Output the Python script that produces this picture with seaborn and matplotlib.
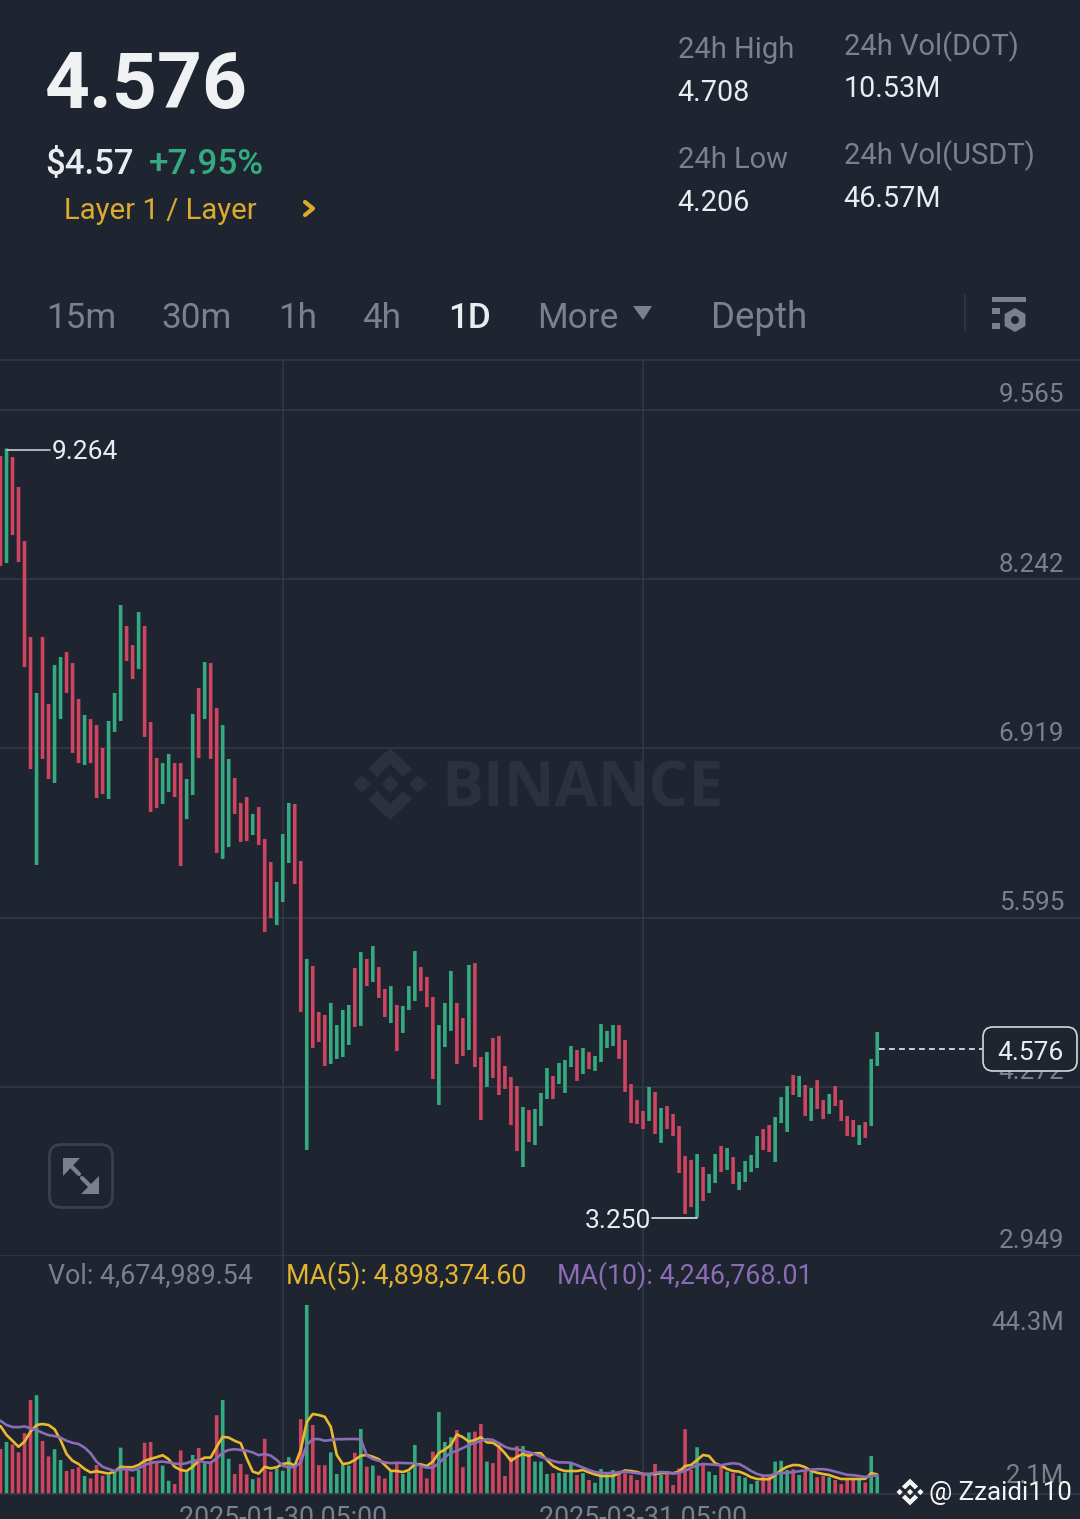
import pandas as pd
import numpy as np
import matplotlib.pyplot as plt
import seaborn as sns
from matplotlib.patches import FancyBboxPatch, Polygon, Rectangle, RegularPolygon, Circle
from matplotlib.lines import Line2D

# --- data ---
candle_high = [9.205, 9.264, 9.197, 8.963, 8.540, 7.790, 7.352, 7.790, 7.266, 7.571,
               7.633, 7.672, 7.586, 7.305, 7.180, 7.148, 7.101, 6.922, 7.133, 7.352,
               8.040, 7.876, 7.727, 7.985, 7.876, 7.125, 6.843, 6.804, 6.875, 6.804,
               6.804, 6.679, 7.188, 7.391, 7.594, 7.586, 7.234, 7.101, 6.836, 6.687,
               6.492, 6.538, 6.406, 6.460, 6.210, 6.030, 5.874, 6.249, 6.492, 6.484,
               6.038, 5.272, 5.217, 4.857, 4.834, 4.928, 4.755, 4.873, 4.912, 5.201,
               5.326, 5.272, 5.373, 5.209, 5.037, 5.060, 4.912, 4.904, 5.060, 5.334,
               5.209, 5.131, 4.974, 4.755, 4.928, 5.178, 4.928, 4.810, 5.225, 5.240,
               4.505, 4.544, 4.654, 4.669, 4.435, 4.349, 4.278, 4.114, 4.091, 4.099,
               4.224, 4.419, 4.357, 4.458, 4.482, 4.591, 4.560, 4.576, 4.544, 4.513,
               4.763, 4.709, 4.755, 4.755, 4.638, 4.294, 4.169, 4.083, 4.271, 4.232,
               4.106, 4.122, 4.060, 3.966, 3.731, 3.700, 3.747, 3.645, 3.590, 3.747,
               3.809, 3.794, 3.723, 3.606, 3.692, 3.739, 3.887, 3.942, 3.973, 4.036,
               4.192, 4.278, 4.364, 4.357, 4.286, 4.263, 4.325, 4.169, 4.216, 4.278,
               4.169, 4.044, 4.013, 3.973, 3.997, 4.490, 4.701]
candle_low = [8.345, 8.368, 8.587, 8.376, 7.555, 6.757, 6.007, 6.836, 6.679, 6.648,
              7.148, 7.352, 6.883, 6.804, 6.789, 6.804, 6.531, 6.562, 6.523, 7.047,
              7.133, 7.602, 7.461, 7.539, 7.008, 6.421, 6.452, 6.484, 6.578, 6.538,
              5.999, 6.366, 6.554, 6.843, 7.148, 6.836, 6.101, 6.054, 6.147, 6.406,
              6.187, 6.194, 6.241, 6.163, 5.483, 5.592, 5.537, 5.717, 6.022, 5.858,
              4.857, 3.778, 4.576, 4.623, 4.435, 4.451, 4.490, 4.505, 4.599, 4.740,
              4.748, 5.060, 5.092, 4.967, 4.818, 4.771, 4.552, 4.693, 4.873, 4.943,
              5.021, 4.896, 4.333, 4.130, 4.583, 4.709, 4.451, 4.513, 4.560, 4.427,
              4.013, 4.271, 4.341, 4.208, 4.255, 3.973, 3.770, 3.645, 3.841, 3.817,
              3.966, 4.177, 4.177, 4.294, 4.224, 4.427, 4.318, 4.372, 4.411, 4.396,
              4.466, 4.576, 4.591, 4.490, 4.232, 3.989, 3.981, 3.942, 4.005, 3.903,
              3.833, 3.942, 3.887, 3.598, 3.278, 3.332, 3.250, 3.379, 3.442, 3.520,
              3.606, 3.622, 3.512, 3.465, 3.528, 3.606, 3.637, 3.778, 3.762, 3.684,
              3.989, 3.919, 4.208, 4.192, 4.044, 4.005, 4.099, 4.020, 4.060, 4.122,
              4.005, 3.887, 3.880, 3.817, 3.872, 3.966, 4.435]
candle_dir = list('DUDDDDUDDU' 'UDDDUDDDUU' 'UDDUDDDUUD' 'DUUDUDDUUD' 'DDUDDDUUUD'
                  'DUDDDUUUUD' 'UDUDDUDUUU' 'DDDUUUDDUD' 'DUDDDDDUDU' 'UUDUUUDUDU'
                  'UUUDDDDDUD' 'UDDDDDUDUU' 'DUDUUUUDDU' 'UUDUDUDDUD' 'DDDUDUU')
volume = [11.25, 13, 12.4, 10.4, 15.2, 23.5, 24.7, 13.25, 9.4, 11.2,
          8.5, 5.75, 6.25, 6.7, 4.5, 3.9, 7.25, 4.6, 4.75, 5.6,
          11.6, 6, 4.3, 6, 12.8, 13, 7.8, 7.1, 3.3, 2.5,
          10.9, 5.6, 9.75, 11.5, 7.7, 8.1, 19.7, 23.5, 8.8, 5,
          7.5, 4.9, 3.7, 4.1, 13.8, 5.6, 6.4, 5.8, 9.2, 7.25,
          18.7, 47.25, 17.25, 7.2, 7.2, 10.4, 5, 7.25, 7.1, 10.3,
          16.25, 6.8, 7.1, 4.6, 3.9, 6, 7.5, 5, 5.6, 12.25,
          6.7, 3.9, 10.6, 20.5, 13, 14.2, 16, 6.7, 15.4, 15.6,
          17.5, 8.1, 7.7, 12.25, 4.5, 9.3, 12, 12, 10.6, 8.1,
          8.1, 5, 5.2, 5.3, 5.3, 7.5, 4.75, 5.2, 3.5, 2.8,
          6.25, 5.2, 6, 5.8, 5.2, 4.75, 3.5, 4.75, 5.2, 7.5,
          4.75, 5.3, 2.25, 6.4, 16.2, 6, 11.7, 7.25, 5.6, 4.75,
          6.8, 5.6, 5.2, 4.5, 4.1, 2.5, 3.3, 4.75, 4.5, 8.1,
          8.3, 6, 6.2, 4.75, 6, 5.6, 4.2, 4.5, 4.2, 3.5,
          2.5, 3.5, 3.7, 3.7, 2.9, 9.5, 4.675]
ma5 = [17, 14.75, 13.3, 11.8, 13.1, 15.6, 17.25, 17.5, 17.25, 16.2,
       13.5, 10, 8.3, 7.5, 6.25, 5.4, 5.7, 5.4, 5.1, 5.6,
       6.8, 6.7, 6.7, 7.25, 8.3, 8.8, 9.2, 9.7, 8.7, 6.8,
       6, 5.75, 6.8, 8.3, 9.1, 9.1, 11.8, 14.3, 14.1, 13.3,
       12.7, 8.9, 5.6, 5.1, 6.8, 6.4, 6.7, 7.5, 7.8, 7.1,
       11, 18, 20, 19.75, 19.3, 16.8, 9.75, 7.5, 7.7, 8.5,
       9.6, 9.75, 9.3, 8.7, 7.25, 5.8, 5.75, 5.5, 6, 7.5,
       7.4, 7, 8.1, 10.3, 11.1, 12.25, 14.9, 14.2, 13.1, 13.5,
       14.2, 12.9, 12.8, 11.8, 10.2, 8.3, 9.3, 10, 9.5, 10.2,
       10.2, 8.5, 7, 6.2, 5.75, 5.75, 5.75, 6, 5.4, 4.9,
       4.5, 4.5, 4.5, 5.2, 5.9, 5.75, 5.5, 5, 5, 5,
       5.2, 5.3, 5.2, 5.6, 7, 7.25, 8.5, 9.75, 9.5, 7.7,
       7.1, 6.25, 5.75, 5.6, 5, 4.2, 3.75, 3.7, 3.7, 4.7,
       6, 6.8, 7.25, 7.2, 6.7, 5.8, 5.3, 5, 4.75, 4.2,
       3.75, 3.75, 3.75, 3.75, 3.8, 5.2, 4.9]
ma10 = [18.3, 17.25, 16.75, 16.7, 16.9, 16.4, 16, 15.3, 14.7, 14.5,
        14.1, 13.3, 12.8, 12.5, 11.6, 10.2, 8.1, 6.8, 6.25, 5.75,
        6.2, 6.25, 5.9, 6.4, 7.25, 7.8, 8, 8.1, 7.9, 7.6,
        7.5, 7.7, 8.3, 8.4, 7.9, 7.8, 8.9, 10.4, 11, 11.2,
        11, 10.8, 10.4, 9.7, 10, 9.6, 8.5, 7.1, 6.6, 6.8,
        7.9, 12.25, 13.7, 13.75, 13.3, 13.5, 13.7, 13.7, 13.75, 13.75,
        13.7, 9.6, 8.75, 8.3, 7.9, 7.7, 7.8, 7.75, 7.7, 7.7,
        7, 6.6, 6.6, 7.7, 9.2, 10.3, 10.8, 11.5, 12.25, 12.8,
        13.3, 13.7, 13.5, 12.7, 11.8, 11.3, 11.2, 10.75, 10.4, 10,
        9.3, 8.8, 8.25, 7.9, 7.9, 7.8, 7.2, 6.6, 6, 5.5,
        5.25, 5.2, 5.3, 5.4, 5.6, 5.4, 5.2, 5, 4.9, 5.3,
        5.5, 5.4, 5.1, 5.3, 5.8, 6.5, 7.25, 7.5, 7.4, 7.3,
        7.2, 7.5, 7.7, 7.5, 6.7, 5.75, 5, 4.6, 4.6, 5,
        5.3, 5.3, 5.5, 5.7, 5.9, 6.1, 6.2, 6.2, 6, 5.6,
        5.2, 4.8, 4.7, 4.5, 4.25, 4.5, 4.7]
price_ticks = [9.565, 8.242, 6.919, 5.595, 4.272, 2.949]
date_days = [47, 107]
date_labels = ['2025-01-30 05:00', '2025-03-31 05:00']
last_price = 4.576

BG = '#1e2530'
GRID = '#323944'
GREY = '#79818f'
WHITE = '#eaecef'
GREEN = '#35aa80'
RED = '#cf4560'
YELLOW = '#dcaa2d'
PURPLE = '#8b6db5'
W, H = 1080, 1519

sns.set_theme(style='dark', rc={'figure.facecolor': BG, 'axes.facecolor': 'none', 'axes.grid': False})
plt.rcParams['font.family'] = ['Roboto', 'DejaVu Sans']

fig = plt.figure(figsize=(W / 100, H / 100), dpi=100)


def fxy(x, y):
    return x / W, 1 - y / H


def put(x, y, s, size, color, ha='left', weight='normal', z=3, family=None):
    # roboto sits a little high and has a side bearing, hence the nudge
    if ha == 'left':
        x -= 1
    fx, fy = fxy(x, y + 2)
    t = fig.text(fx, fy, s, fontsize=size, color=color, ha=ha, va='center', fontweight=weight, zorder=z)
    if family:
        t.set_family(family)
    return t


def poly(pts, color, z=3):
    fig.add_artist(Polygon([fxy(*p) for p in pts], closed=True, facecolor=color, edgecolor='none',
                           transform=fig.transFigure, zorder=z))


def seg(x0, y0, x1, y1, color, lw=1.5, ls='-', z=3):
    a, b = fxy(x0, y0), fxy(x1, y1)
    fig.add_artist(Line2D([a[0], b[0]], [a[1], b[1]], color=color, lw=lw, ls=ls,
                          transform=fig.transFigure, zorder=z))


def logo(cx, cy, s, color, z):
    # binance mark: three small diamonds and two chevrons
    for dx, r in [(-28, 8.5), (0, 8.5), (28, 8.5)]:
        poly([(cx + (dx - r) * s, cy), (cx + dx * s, cy - r * s), (cx + (dx + r) * s, cy), (cx + dx * s, cy + r * s)],
             color, z)
    for sign in (-1, 1):
        shape = [(0, 36), (22, 15), (13, 7), (0, 20), (-13, 7), (-22, 15)]
        poly([(cx + a * s, cy + sign * b * s) for a, b in shape], color, z)


ax = fig.add_axes([0, 1 - 1256 / H, 1, (1256 - 360) / H])
ax_vol = fig.add_axes([0, 1 - 1494 / H, 1, (1494 - 1256) / H])
ax.set_zorder(2)
ax_vol.set_zorder(2)

df = pd.DataFrame({'day': np.arange(len(candle_high)), 'high': candle_high, 'low': candle_low,
                   'dir': candle_dir, 'vol': volume, 'ma5': ma5, 'ma10': ma10})
df['span'] = df['high'] - df['low']

# candles and volume bars
for d, col in [('U', GREEN), ('D', RED)]:
    sub = df[df['dir'] == d]
    sns.barplot(data=sub, x='day', y='span', bottom=sub['low'].values, color=col, saturation=1,
                native_scale=True, width=0.6, errorbar=None, linewidth=0, ax=ax)
    sns.barplot(data=sub, x='day', y='vol', color=col, saturation=1,
                native_scale=True, width=0.6, errorbar=None, linewidth=0, ax=ax_vol)
for p in list(ax.patches) + list(ax_vol.patches):
    p.set_snap(False)
sns.lineplot(data=df, x='day', y='ma5', color='#eab92f', lw=1.9, ax=ax_vol)
sns.lineplot(data=df, x='day', y='ma10', color=PURPLE, lw=1.9, ax=ax_vol)

# px x = 0.5 + 6.005 * day
xlim = (-0.5 / 6.005, (W - 0.5) / 6.005)
ax.set_xlim(xlim)
ax.set_ylim(2.949, 2.949 + (1256 - 360) * 6.616 / 846)
ax_vol.set_xlim(xlim)
ax_vol.set_ylim(0, 238 * 0.25)

for a in (ax, ax_vol):
    a.set_xlabel('')
    a.set_ylabel('')
    for sp in a.spines.values():
        sp.set_visible(False)
    a.set_xticks(date_days)
    a.grid(True, axis='x', color=GRID, lw=1.2, zorder=0)
    a.set_axisbelow(True)
    a.tick_params(length=0)

ax.set_yticks(price_ticks)
ax.set_yticklabels([])
ax.set_xticklabels([])
ax.grid(True, axis='y', color=GRID, lw=1.2)
ax.spines['top'].set_visible(True)
ax.spines['top'].set_color('#2e353f')
ax.spines['top'].set_linewidth(1.5)

ax_vol.set_yticks([])
ax_vol.set_xticklabels(date_labels, fontsize=19.3, color=GREY)
ax_vol.tick_params(axis='x', pad=8)
ax_vol.spines['bottom'].set_visible(True)
ax_vol.spines['bottom'].set_color(GRID)
ax_vol.spines['bottom'].set_linewidth(1.2)

# price scale labels sit above their grid lines
for t in price_ticks:
    ax.annotate(f'{t:.3f}', (1, t), xycoords=('axes fraction', 'data'), xytext=(-11.5, 10.5),
                textcoords='offset points', ha='right', va='center', fontsize=18.7, color=GREY)

# high / low markers
seg(7, 450, 50, 450, '#c8ccd2', 1.2)
put(53, 450, '9.264', 19, WHITE)
seg(652, 1218, 697, 1218, '#e0e2e6', 1.2)
put(651, 1219, '3.250', 19, WHITE, ha='right')

# last price line and box
seg(879, 1048.5, 982, 1048.5, WHITE, 1.2, (0, (3.5, 2.5)))
box = FancyBboxPatch((983, H - 1071), 94, 44, boxstyle='round,pad=0,rounding_size=10',
                     facecolor=BG, edgecolor='#d5d8dc', lw=1.2, transform=None, zorder=4)
fig.add_artist(box)
put(1030, 1051, f'{last_price:.3f}', 19, WHITE, ha='center', z=5)

# volume header + scale
put(49, 1274, 'Vol: 4,674,989.54', 19.3, GREY)
put(287, 1274, 'MA(5): 4,898,374.60', 19.3, '#e4b42f')
put(558, 1274, 'MA(10): 4,246,768.01', 19.3, PURPLE)
put(1064, 1321, '44.3M', 18.5, GREY, ha='right')
put(1064, 1474, '2.1M', 18.5, GREY, ha='right')

# header
put(46, 85, '4.576', 56.5, '#eff1f3', weight='bold')
put(46, 162, '$4.57', 25, WHITE, weight='medium')
put(150, 162, '+7.95%', 25.3, GREEN, weight='medium')
put(65, 209, 'Layer 1 / Layer', 21.2, YELLOW)
a, b, c = fxy(305, 202), fxy(313, 208.5), fxy(305, 215)
fig.add_artist(Line2D([a[0], b[0], c[0]], [a[1], b[1], c[1]], color=YELLOW, lw=3,
                      transform=fig.transFigure, zorder=3))
put(678.5, 48, '24h High', 21, GREY)
put(678.5, 91, '4.708', 20.7, WHITE)
put(678.5, 158, '24h Low', 21, GREY)
put(678.5, 201, '4.206', 20.7, WHITE)
put(844.5, 45, '24h Vol(DOT)', 21, GREY)
put(844.5, 87, '10.53M', 20.7, WHITE)
put(844.5, 154, '24h Vol(USDT)', 21, GREY)
put(844.5, 197, '46.57M', 20.7, WHITE)

# interval tabs
for x, s in [(47, '15m'), (162, '30m'), (279, '1h'), (363, '4h'), (538, 'More')]:
    put(x, 316, s, 25.3, GREY)
put(712, 316, 'Depth', 26.5, GREY)
put(449, 316, '1D', 25.3, WHITE, weight='medium')
poly([(633, 306), (652, 306), (643, 320)], GREY)
seg(965, 295, 965, 331, GRID, 1.2)
for x0, y0, w, h in [(992, 297, 34, 5), (992, 308, 8, 6), (992, 323, 8, 6)]:
    fig.add_artist(Rectangle(fxy(x0, y0 + h), w / W, h / H, facecolor=GREY, edgecolor='none',
                             transform=fig.transFigure, zorder=3))
hex_c = (1015, H - 320)
fig.add_artist(RegularPolygon(hex_c, 6, radius=12, facecolor=GREY, edgecolor='none', transform=None, zorder=3))
fig.add_artist(Circle(hex_c, 4, facecolor=BG, edgecolor='none', transform=None, zorder=4))

# expand button
fig.add_artist(FancyBboxPatch((49.5, H - 1207.5), 63, 63, boxstyle='round,pad=0,rounding_size=12',
                              facecolor='none', edgecolor='#3a414d', lw=2, transform=None, zorder=3))
seg(70, 1165, 79, 1174, GREY, 3)
poly([(63, 1158), (80, 1158), (63, 1176)], GREY)
seg(91, 1187, 82, 1178, GREY, 3)
poly([(99, 1194), (81, 1194), (99, 1176)], GREY)

# BINANCE watermark, under the candles (axes are above zorder 2)
WM = '#2b323d'
put(442, 788, 'BINANCE', 45, WM, weight='bold', z=1, family='Open Sans')
logo(390, 784, 1, WM, 1)

# footer credit
logo(910, 1492, 0.37, '#f5f5f5', 6)
put(930, 1491, '@ Zzaidi110', 18.6, '#f5f5f5', z=6)

plt.savefig('out.png', dpi=100, facecolor=BG)
